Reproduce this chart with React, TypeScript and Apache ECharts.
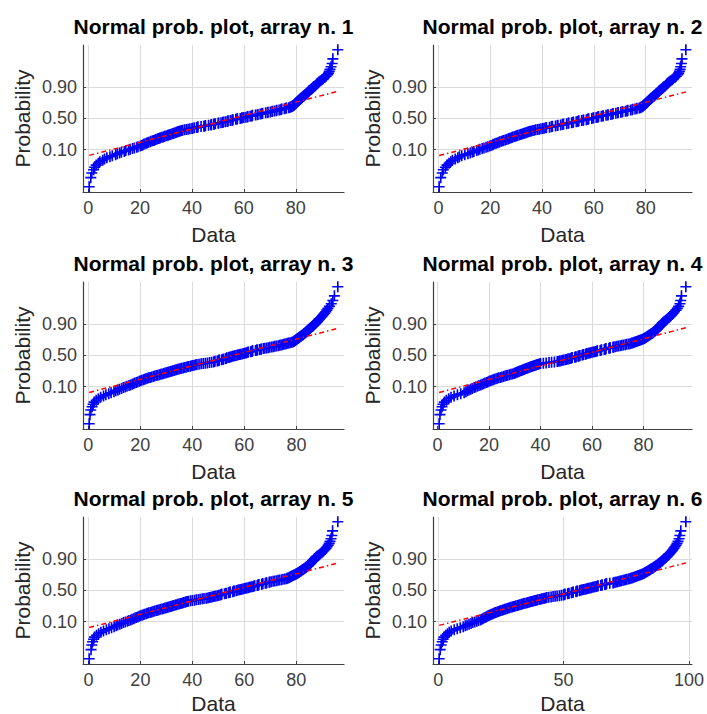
import React, { useEffect, useRef } from "react";
import * as echarts from "echarts";

// ---------- data (sorted sample values) ----------
const titles = [
  "Normal prob. plot, array n. 1",
  "Normal prob. plot, array n. 2",
  "Normal prob. plot, array n. 3",
  "Normal prob. plot, array n. 4",
  "Normal prob. plot, array n. 5",
  "Normal prob. plot, array n. 6",
];
const xTicksA = [0, 20, 40, 60, 80];
const xTicksB = [0, 50, 100];
const probTicks = [0.1, 0.5, 0.9];
const xLabel = "Data";
const yLabel = "Probability";

const array1 = [
  0.4, 1.0, 1.4, 2.1, 2.5, 3.1, 3.9, 4.5, 5.6, 6.3,
  7.2, 8.4, 9.3, 10.6, 11.2, 12.1, 12.8, 13.9, 14.5, 15.6,
  16.2, 17.1, 17.8, 18.7, 19.2, 20.1,
  20.6, 21.0, 21.4, 21.9, 22.5, 22.8, 23.3, 23.9, 24.2, 24.8, 25.3, 25.7, 26.1, 26.6,
  27.0, 27.5, 27.8, 28.4, 28.9, 29.3, 29.6, 30.2, 30.7, 31.1, 31.5, 31.9, 32.4, 32.8, 33.1, 33.6, 34.0, 34.3, 34.7, 35.1, 35.5,
  36.0, 36.4, 37.1, 37.8, 38.5, 39.2, 40.0,
  40.3, 40.9, 41.8, 42.1, 42.3, 43.5, 44.6, 45.0, 45.2, 46.4, 47.3, 47.5, 48.4, 48.6, 49.0, 50.1, 50.3, 51.2, 51.9,
  52.0, 52.8, 53.6, 53.7, 53.9, 54.8, 55.5, 55.6, 55.8, 56.9, 57.4, 57.5, 58.6, 59.2, 59.3, 60.0, 60.8, 61.4, 61.5, 62.4,
  63.0, 63.2, 63.3, 64.5, 65.2, 65.4, 66.3, 66.9, 67.1, 67.2, 68.4, 69.1, 69.3, 70.2, 70.9, 71.0, 71.8, 72.5, 72.7, 73.6,
  74.3, 74.4, 74.6, 75.6, 76.2, 76.4, 77.3, 77.8, 78.0, 78.3, 78.6, 78.8, 79.0,
  79.2, 79.4, 79.5, 79.7, 79.8, 80.0, 80.1, 80.2, 80.4, 80.5,
  80.7, 80.8, 81.0, 81.1, 81.3, 81.5, 81.6, 81.8,
  82.0, 82.2, 82.4, 82.6, 82.8, 83.0, 83.2, 83.4, 83.6, 83.9, 84.1, 84.3, 84.5, 84.7, 84.9, 85.1, 85.3,
  85.6, 85.9, 86.2, 86.5, 86.8, 87.1, 87.4, 87.7, 88.0, 88.3, 88.6, 89.0,
  89.5, 90.1, 90.6, 91.2, 91.7, 92.3,
  92.6, 92.9, 93.2, 93.6,
  94.0, 94.3, 96.2,
];

const array2 = [
  0.3, 0.9, 1.5, 1.9, 2.7, 3.3, 4.1, 4.8, 5.4, 6.5,
  7.5, 8.1, 9.0, 10.2, 11.4, 12.3, 13.1, 13.7, 14.8, 15.4,
  16.0, 16.9, 17.6, 18.4, 19.1, 19.8,
  20.3, 20.9, 21.2, 21.8, 22.3, 22.9, 23.4, 23.7, 24.3, 24.9, 25.2, 25.8, 26.3, 26.9,
  27.2, 27.6, 28.1, 28.5, 28.8, 29.4, 29.9, 30.3, 30.6, 31.2, 31.7, 32.0, 32.5, 33.0, 33.3, 33.8, 34.2, 34.6, 35.0, 35.4, 35.9,
  36.5, 37.0, 37.6, 38.3, 38.9, 39.6, 40.3,
  40.8, 41.5, 41.7, 42.9, 43.6, 43.8, 44.0, 45.2, 45.9, 46.1,
  47.2, 47.9, 48.0, 48.3, 49.5, 50.1, 50.3, 51.4, 51.9, 52.1,
  53.2, 53.8, 53.9, 54.2, 55.3, 55.9, 56.0, 57.1, 57.6, 57.8,
  58.0, 59.2, 59.7, 59.9, 60.9, 61.4, 61.6, 61.8, 62.9, 63.5,
  63.6, 64.7, 65.3, 65.5, 66.6, 67.1, 67.3, 67.4, 68.5, 69.2,
  69.4, 70.4, 70.9, 71.1, 72.2, 72.8, 72.9, 73.1, 74.2, 74.8,
  75.0, 75.9, 76.5, 76.6, 77.5, 77.9, 78.1, 78.4, 78.6, 78.8,
  78.9, 79.1,
  79.3, 79.5, 79.6, 79.8, 79.9, 80.1, 80.2, 80.4, 80.5, 80.7,
  80.8, 81.0, 81.1, 81.3, 81.4, 81.6, 81.7, 81.9,
  82.1, 82.3, 82.5, 82.7, 82.9, 83.1, 83.3, 83.5, 83.7, 83.9, 84.1, 84.3, 84.6, 84.8, 85.0, 85.2, 85.4,
  85.7, 86.0, 86.3, 86.6, 86.9, 87.2, 87.5, 87.8, 88.1, 88.4, 88.7, 89.1,
  89.6, 90.2, 90.7, 91.3, 91.8, 92.4,
  92.7, 93.0, 93.3, 93.5,
  93.8, 94.0, 95.5,
];

const array3 = [
  0.4, 0.7, 1.0, 1.5, 1.9, 2.3, 3.1, 3.9, 4.8,
  5.9, 6.8, 7.9, 8.8, 9.9,
  10.6, 11.4, 12.0, 12.8, 13.5, 14.2, 14.9, 15.7, 16.3,
  16.9, 17.4, 17.9, 18.5, 19.0, 19.6, 20.1, 20.6, 21.2, 21.7, 22.2, 22.7,
  23.3, 23.8, 24.4, 25.0, 25.5, 26.1, 26.7, 27.3, 27.9, 28.4, 29.0,
  29.5, 30.0, 30.5, 31.0, 31.5, 32.0, 32.5, 33.0, 33.4, 33.9, 34.4, 34.9, 35.4,
  35.9, 36.5, 37.0, 37.6, 38.1, 38.6, 39.2, 39.7, 40.2, 40.7, 41.3, 41.8,
  42.6, 43.4, 44.2, 45.0, 45.8, 46.6, 47.4, 48.2,
  48.5, 48.7, 49.6, 50.1, 50.2, 50.4, 51.3, 51.8, 51.9, 52.7, 53.0, 53.1, 53.3, 54.0, 54.2, 54.5,
  55.0, 55.4, 55.9, 56.3, 56.8, 57.3, 57.7, 58.2, 58.6, 59.1, 59.6, 60.0, 60.5, 60.9,
  61.3, 61.5, 62.4, 62.9, 63.0, 63.2, 64.3, 64.8, 64.9, 65.8, 66.4, 66.5, 67.3,
  67.9, 68.6, 69.2, 69.8, 70.5, 71.1, 71.7, 72.3, 73.0, 73.6,
  74.1, 74.6, 75.1, 75.6, 76.1, 76.6, 77.1, 77.6, 78.2, 78.7,
  78.9, 79.1, 79.3, 79.5, 79.7, 79.9, 80.1, 80.3, 80.5, 80.7, 80.9, 81.1, 81.3,
  81.5, 81.7, 81.9, 82.2, 82.4, 82.6, 82.8, 83.0, 83.2, 83.4, 83.6, 83.8, 84.0, 84.2, 84.4, 84.6, 84.9, 85.1,
  85.4, 85.6, 85.9, 86.2, 86.5, 86.7, 87.0, 87.3, 87.5, 87.8, 88.1, 88.3, 88.6, 88.9,
  89.3, 89.7, 90.1, 90.5, 90.9, 91.3, 91.7, 92.1,
  92.7, 93.4, 94.0, 94.6, 95.9,
];

const array4 = [
  0.6, 0.9, 1.3, 1.7, 2.1, 2.6, 3.4, 4.3, 5.2,
  6.4, 7.7, 9.0, 10.3,
  11.0, 11.6, 12.2, 12.9, 13.5, 14.2, 14.8, 15.5, 16.1, 16.8,
  17.3, 17.9, 18.4, 19.0, 19.5, 20.0, 20.5, 21.1, 21.6, 22.1, 22.7, 23.2,
  23.8, 24.4, 25.0, 25.6, 26.2, 26.7, 27.3, 27.9, 28.5, 29.1, 29.7,
  30.0, 30.4, 30.8, 31.1, 31.5, 31.8, 32.2, 32.6, 32.9, 33.3, 33.7, 34.0, 34.4, 34.7, 35.1, 35.4, 35.8, 36.1,
  36.5, 36.9, 37.3, 37.7, 38.1, 38.4, 38.8, 39.2, 39.6, 40.0,
  41.1, 42.2, 43.3, 44.3, 45.4, 46.5,
  47.0, 47.5, 48.0, 48.5, 49.0, 49.6, 50.1, 50.6, 51.1, 51.6,
  51.9, 52.1, 52.3, 53.3, 53.7, 53.8, 54.6, 55.0, 55.1, 55.3, 56.2, 56.6, 56.7, 57.5, 57.8, 58.0,
  58.5, 59.0, 59.5, 60.0, 60.5, 61.0, 61.5,
  61.9, 62.1, 63.2, 63.6, 63.7, 64.8, 65.1, 65.3, 65.4, 66.6, 67.0, 67.1, 68.2, 68.4,
  69.0, 69.7, 70.3, 71.0, 71.6, 72.2, 72.9, 73.5, 74.2, 74.8,
  75.2, 75.6, 76.0, 76.4, 76.8, 77.2, 77.6, 78.0, 78.4, 78.8, 79.2, 79.6, 80.0,
  80.2, 80.5, 80.7, 81.0, 81.2, 81.5, 81.7, 81.9, 82.2, 82.4, 82.7, 82.9, 83.2, 83.4, 83.7, 83.9,
  84.1, 84.4, 84.6, 84.8, 85.0, 85.3, 85.5, 85.7, 85.9, 86.2, 86.4, 86.6, 86.8, 87.0, 87.3, 87.5, 87.7,
  88.1, 88.6, 89.0, 89.4, 89.9, 90.3, 90.7, 91.2, 91.6,
  92.1, 92.7, 93.2, 93.7, 94.2, 94.5, 94.8, 96.5,
];

const array5 = [
  0.3, 1.0, 1.3, 1.6, 2.0, 2.3, 3.1, 3.9, 4.8,
  5.8, 6.9, 7.9, 8.9, 9.9,
  10.7, 11.3, 12.1, 12.8, 13.5, 14.2, 15.0, 15.6, 16.3,
  16.8, 17.4, 17.9, 18.4, 19.0, 19.5, 20.0, 20.6, 21.1, 21.6, 22.2, 22.7,
  23.2, 23.8, 24.4, 24.9, 25.5, 26.1, 26.7, 27.2, 27.8, 28.4, 29.0,
  29.5, 30.0, 30.5, 31.0, 31.5, 32.0, 32.4, 32.9, 33.4, 33.9, 34.4, 34.9, 35.4,
  35.8, 36.3, 36.7, 37.2, 37.6, 38.0, 38.5,
  39.3, 40.0, 40.8, 41.5, 42.3, 43.0, 43.8, 44.5, 45.3, 46.0,
  46.5, 47.1, 47.6, 48.1, 48.6, 49.1, 49.7, 50.2, 50.7,
  51.0, 51.2, 51.3, 52.4, 52.9, 53.0, 53.9, 54.3, 54.4, 54.6, 55.6, 56.0, 56.1, 56.9, 57.1,
  57.6, 58.1, 58.6, 59.0, 59.5, 60.0, 60.5, 61.0, 61.5, 61.9, 62.4, 62.9, 63.4,
  63.8, 64.0, 65.0, 65.3, 65.4, 65.6, 66.7, 67.0, 67.1, 68.1, 68.5, 68.6, 69.6, 69.8,
  70.4, 71.1, 71.7, 72.4, 73.0, 73.6, 74.3, 74.9, 75.6, 76.2,
  76.5, 76.8, 77.1, 77.4, 77.7, 78.0, 78.2, 78.5, 78.8, 79.1, 79.4, 79.7, 80.0,
  80.2, 80.5, 80.7, 81.0, 81.2, 81.4, 81.7, 81.9, 82.1, 82.4, 82.6, 82.9, 83.1, 83.3, 83.6, 83.8,
  84.0, 84.3, 84.5, 84.7, 84.9, 85.2, 85.4, 85.6, 85.8, 86.0, 86.3, 86.5, 86.7, 86.9, 87.1, 87.4, 87.6,
  88.0, 88.5, 88.9, 89.3, 89.8, 90.2, 90.6, 91.1, 91.5,
  91.9, 92.3, 92.7, 93.0, 93.4, 93.7, 94.0, 96.0,
];

const array6 = [
  0.4, 0.8, 1.2, 1.6, 2.0, 2.3,
  3.0, 3.7, 4.4, 5.2,
  6.4, 7.6, 8.8, 10.0,
  10.8, 11.5, 12.3, 13.1, 13.8, 14.6, 15.4, 16.1, 16.9,
  17.3, 17.8, 18.2, 18.7, 19.1, 19.5, 20.0, 20.4, 20.8, 21.3, 21.7, 22.2, 22.6, 23.0, 23.5,
  24.0, 24.5, 25.0, 25.5, 26.0, 26.5, 27.0, 27.5, 28.0, 28.5, 29.0, 29.5, 30.0,
  30.5, 31.0, 31.6, 32.1, 32.6, 33.1, 33.6, 34.1, 34.6, 35.2, 35.7, 36.2, 36.7,
  37.2, 37.7, 38.2, 38.7, 39.2, 39.7, 40.3, 40.8, 41.3, 41.8, 42.3, 42.8, 43.3,
  44.1, 45.0, 45.8, 46.6, 47.4, 48.3, 49.1, 49.9,
  50.2, 50.4, 50.5, 51.6, 52.0, 52.1, 53.1, 53.5, 53.6, 53.8, 54.9, 55.3, 55.4, 56.3, 56.5,
  57.0, 57.5, 58.0, 58.5, 59.0, 59.5, 60.0, 60.5, 61.0, 61.5, 62.0, 62.5, 63.0,
  63.5, 63.7, 64.8, 65.2, 65.3, 66.4, 66.8, 66.9, 67.1, 68.4, 69.7, 70.0,
  70.5, 71.0, 71.6, 72.1, 72.6, 73.1, 73.7, 74.2, 74.7, 75.2, 75.8, 76.3,
  76.7, 77.1, 77.5, 77.9, 78.3, 78.7, 79.1, 79.5, 79.9, 80.3, 80.7, 81.1, 81.5,
  81.8, 82.1, 82.3, 82.6, 82.9, 83.2, 83.4, 83.7, 84.0, 84.3, 84.5, 84.8, 85.1, 85.4, 85.7, 85.9, 86.2, 86.5, 86.8,
  87.1, 87.4, 87.6, 87.9, 88.2, 88.5, 88.8, 89.1, 89.4, 89.6, 89.9, 90.2, 90.5, 90.8,
  91.2, 91.5, 91.9, 92.2, 92.6, 92.9, 93.3, 93.6, 94.0,
  94.4, 94.8, 95.2, 95.6, 96.0, 96.3, 96.7, 98.7,
];

const panelData = [array1, array2, array3, array4, array5, array6];
const panelXTicks = [xTicksA, xTicksA, xTicksA, xTicksA, xTicksA, xTicksB];

// ---------- layout ----------
const W = 707;
const H = 714;
const COL_LEFT = [83, 433];
const COL_WIDTH = [261, 259];
const ROW_TOP = [45, 282, 517];
const PLOT_H = 147;
const Y_MIN = -3.02;
const Y_MAX = 3.0;
const FONT = '"Liberation Sans", Arial, Helvetica, sans-serif';
const AXIS_COLOR = "#404040";
const GRID_COLOR = "#dadada";
const CROSS = "path://M4.25,0H5.75V4.25H10V5.75H5.75V10H4.25V5.75H0V4.25H4.25Z";

// ---------- math helpers (normal probability plot transform) ----------
function norminv(p: number): number {
  const a = [-3.969683028665376e1, 2.209460984245205e2, -2.759285104469687e2, 1.38357751867269e2, -3.066479806614716e1, 2.506628277459239];
  const b = [-5.447609879822406e1, 1.615858368580409e2, -1.556989798598866e2, 6.680131188771972e1, -1.328068155288572e1];
  const c = [-7.784894002430293e-3, -3.223964580411365e-1, -2.400758277161838, -2.549732539343734, 4.374664141464968, 2.938163982698783];
  const d = [7.784695709041462e-3, 3.224671290700398e-1, 2.445134137142996, 3.754408661907416];
  const plow = 0.02425;
  const phigh = 1 - plow;
  if (p < plow) {
    const q = Math.sqrt(-2 * Math.log(p));
    return (((((c[0] * q + c[1]) * q + c[2]) * q + c[3]) * q + c[4]) * q + c[5]) / ((((d[0] * q + d[1]) * q + d[2]) * q + d[3]) * q + 1);
  }
  if (p <= phigh) {
    const q = p - 0.5;
    const r = q * q;
    return ((((((a[0] * r + a[1]) * r + a[2]) * r + a[3]) * r + a[4]) * r + a[5]) * q) / (((((b[0] * r + b[1]) * r + b[2]) * r + b[3]) * r + b[4]) * r + 1);
  }
  const q = Math.sqrt(-2 * Math.log(1 - p));
  return -(((((c[0] * q + c[1]) * q + c[2]) * q + c[3]) * q + c[4]) * q + c[5]) / ((((d[0] * q + d[1]) * q + d[2]) * q + d[3]) * q + 1);
}

function prctile(sorted: number[], pct: number): number {
  const n = sorted.length;
  const pos = (pct / 100) * n + 0.5;
  if (pos <= 1) return sorted[0];
  if (pos >= n) return sorted[n - 1];
  const lo = Math.floor(pos);
  const f = pos - lo;
  return sorted[lo - 1] + f * (sorted[lo] - sorted[lo - 1]);
}

function buildOption() {
  const grid: any[] = [];
  const xAxis: any[] = [];
  const yAxis: any[] = [];
  const series: any[] = [];
  const graphic: any[] = [];
  const zTicks = probTicks.map(norminv);

  panelData.forEach((raw, k) => {
    const row = Math.floor(k / 2);
    const col = k % 2;
    const left = COL_LEFT[col];
    const width = COL_WIDTH[col];
    const top = ROW_TOP[row];
    const sorted = raw.slice().sort((p, q) => p - q);
    const n = sorted.length;
    const dmin = sorted[0];
    const dmax = sorted[n - 1];
    const range = dmax - dmin;
    const ticks = panelXTicks[k];

    grid.push({ left, top, width, height: PLOT_H, containLabel: false, outerBoundsMode: "none" });

    xAxis.push({
      type: "value",
      gridIndex: k,
      min: dmin - 0.025 * range,
      max: dmax + 0.025 * range,
      axisLine: { show: true, onZero: false, lineStyle: { color: AXIS_COLOR, width: 1.2 } },
      axisTick: { show: true, inside: true, length: 3, customValues: ticks, lineStyle: { color: AXIS_COLOR } },
      axisLabel: {
        show: true,
        customValues: ticks,
        margin: 7,
        color: AXIS_COLOR,
        fontSize: 18,
        fontFamily: FONT,
        formatter: (v: number) => String(Math.round(v)),
      },
      splitLine: { show: true, lineStyle: { color: GRID_COLOR, width: 1 } },
    });

    yAxis.push({
      type: "value",
      gridIndex: k,
      min: Y_MIN,
      max: Y_MAX,
      axisLine: { show: true, onZero: false, lineStyle: { color: AXIS_COLOR, width: 1.2 } },
      axisTick: { show: true, inside: true, length: 3, customValues: zTicks, lineStyle: { color: AXIS_COLOR } },
      axisLabel: {
        show: true,
        customValues: zTicks,
        margin: 6,
        color: AXIS_COLOR,
        fontSize: 18,
        fontFamily: FONT,
        formatter: (v: number) => {
          let best = 0;
          zTicks.forEach((z, i) => {
            if (Math.abs(z - v) < Math.abs(zTicks[best] - v)) best = i;
          });
          return probTicks[best].toFixed(2);
        },
      },
      splitLine: { show: true, lineStyle: { color: GRID_COLOR, width: 1 } },
    });

    const points = sorted.map((x, i) => [x, norminv((i + 0.5) / n)]);
    series.push({
      type: "scatter",
      xAxisIndex: k,
      yAxisIndex: k,
      data: points,
      symbol: CROSS,
      symbolSize: 11,
      itemStyle: { color: "#0000ff", opacity: 1 },
      silent: true,
      clip: false,
      z: 2,
    });

    // reference line through first and third quartiles (normplot)
    const q1 = prctile(sorted, 25);
    const q3 = prctile(sorted, 75);
    const z1 = norminv(0.25);
    const z3 = norminv(0.75);
    const slope = (z3 - z1) / (q3 - q1);
    const lineAt = (x: number) => z1 + slope * (x - q1);
    series.push({
      type: "line",
      xAxisIndex: k,
      yAxisIndex: k,
      data: [
        [dmin, lineAt(dmin)],
        [dmax, lineAt(dmax)],
      ],
      symbol: "none",
      showSymbol: false,
      lineStyle: { color: "#ff0000", width: 1.5, type: [5, 3, 1.5, 3] },
      silent: true,
      z: 3,
    });

    const cx = left + width / 2;
    const labelGap = row === 2 ? 39 : 42;
    graphic.push({
      type: "text",
      x: cx,
      y: top - 19,
      silent: true,
      style: {
        text: titles[k],
        font: `bold 21px ${FONT}`,
        fill: "#000000",
        textAlign: "center",
        textVerticalAlign: "middle",
      },
    });
    graphic.push({
      type: "text",
      x: cx,
      y: top + PLOT_H + labelGap,
      silent: true,
      style: {
        text: xLabel,
        font: `21px ${FONT}`,
        fill: "#262626",
        textAlign: "center",
        textVerticalAlign: "middle",
      },
    });
    graphic.push({
      type: "text",
      x: left - 61,
      y: top + PLOT_H / 2,
      rotation: Math.PI / 2,
      silent: true,
      style: {
        text: yLabel,
        font: `21px ${FONT}`,
        fill: "#262626",
        textAlign: "center",
        textVerticalAlign: "middle",
      },
    });
  });

  return {
    animation: false,
    backgroundColor: "#ffffff",
    grid,
    xAxis,
    yAxis,
    series,
    graphic,
  };
}

export default function App() {
  const ref = useRef<HTMLDivElement>(null);
  useEffect(() => {
    if (!ref.current) return;
    const chart = echarts.init(ref.current, undefined, { renderer: "svg" });
    chart.setOption(buildOption() as any);
    return () => chart.dispose();
  }, []);
  return (
    <div
      ref={ref}
      style={{ position: "fixed", left: 0, top: 0, width: W, height: H, background: "#ffffff" }}
    />
  );
}
